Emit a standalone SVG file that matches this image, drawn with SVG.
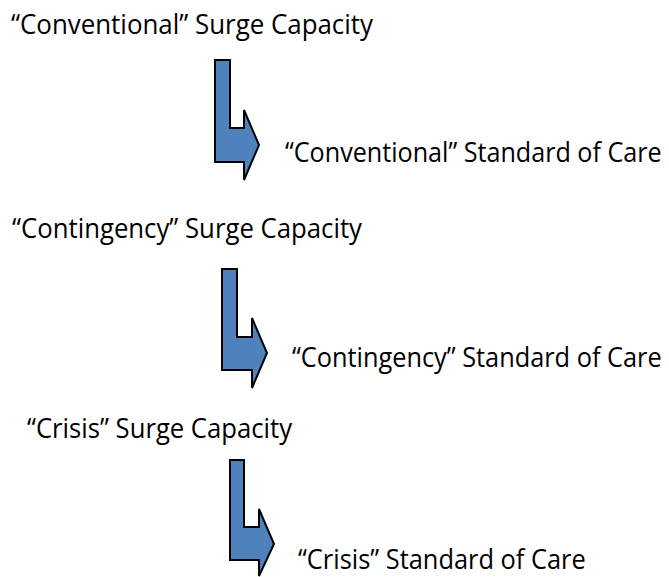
<svg xmlns="http://www.w3.org/2000/svg" width="669" height="577" viewBox="0 0 669 577">
<style>
.t{font-family:"Open Sans","Liberation Sans",sans-serif;font-size:28px;fill:#000}
.a{fill:#4F81BD;stroke:#000;stroke-width:2;stroke-linejoin:miter}
</style>
<rect width="669" height="577" fill="#fff"/>
<g id="conv-surge"><text class="t" x="11" y="34" textLength="362" lengthAdjust="spacingAndGlyphs">“Conventional” Surge Capacity</text></g>
<g id="conv-care"><text class="t" transform="translate(285,162) scale(0.88,1)" x="0" y="0" textLength="428" lengthAdjust="spacingAndGlyphs">“Conventional” Standard of Care</text></g>
<g id="cont-surge"><text class="t" x="12" y="238" textLength="350" lengthAdjust="spacingAndGlyphs">“Contingency” Surge Capacity</text></g>
<g id="cont-care"><text class="t" transform="translate(292,367) scale(0.88,1)" x="0" y="0" textLength="420" lengthAdjust="spacingAndGlyphs">“Contingency” Standard of Care</text></g>
<g id="crisis-surge"><text class="t" x="27" y="438" textLength="265" lengthAdjust="spacingAndGlyphs">“Crisis” Surge Capacity</text></g>
<g id="crisis-care"><text class="t" transform="translate(298,569) scale(0.88,1)" x="0" y="0" textLength="327" lengthAdjust="spacingAndGlyphs">“Crisis” Standard of Care</text></g>
<g id="connectors">
<polygon class="a" points="215,60 230,60 230,128 244,128 244,110 259,145 244,180 244,162 215,162"/>
<polygon class="a" points="222,269 237,269 237,337 252,337 252,318 267,353 252,388 252,370 222,370"/>
<polygon class="a" points="230,460 244,460 244,527 259,527 259,509 274,544 259,576 259,560 230,560"/>
</g>
</svg>
